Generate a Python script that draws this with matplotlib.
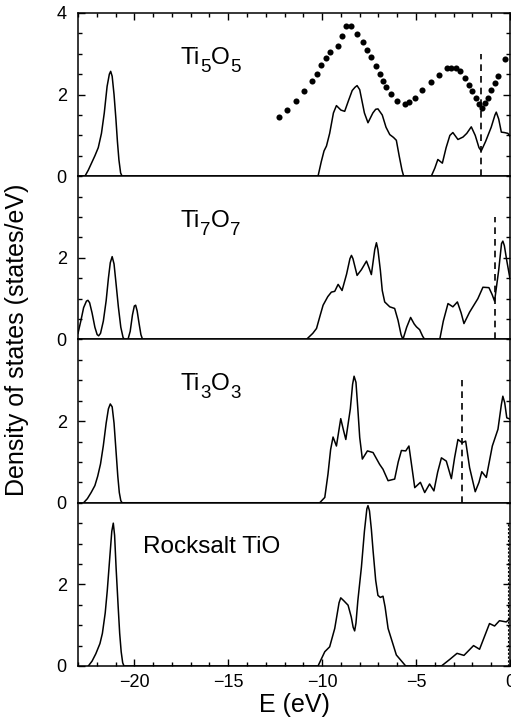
import matplotlib
matplotlib.use('Agg')

import matplotlib.pyplot as plt
from matplotlib.ticker import MultipleLocator

plt.rcParams['font.family'] = ['Liberation Sans', 'DejaVu Sans']

# panel names, top to bottom: (symbol, subscript) pieces
names = [[('Ti', '5'), ('O', '5')],
         [('Ti', '7'), ('O', '7')],
         [('Ti', '3'), ('O', '3')],
         [('Rocksalt TiO', '')]]

# Ti5O5 calculated DOS
ti5o5_e = [-23.0, -22.63, -22.45, -22.3, -22.1, -21.92, -21.75, -21.6, -21.45, -21.33, -21.26,
           -21.18, -21.08, -20.98, -20.9, -20.82, -20.73, -20.65,
           -10.22, -10.05, -9.9, -9.77, -9.6, -9.4, -9.24, -9.0, -8.8, -8.6, -8.4, -8.25, -8.14,
           -8.0, -7.75, -7.56, -7.3, -7.15, -7.03, -6.8, -6.6, -6.4, -6.2, -6.05, -5.9, -5.75,
           -5.66, -4.19, -4.0, -3.84, -3.6, -3.4, -3.2, -3.04, -2.77, -2.5, -2.3, -2.06, -1.85,
           -1.65, -1.53, -1.3, -1.0, -0.8, -0.73, -0.6, -0.46, -0.3, -0.11, 0.0]
ti5o5_dos = [0.0, 0.0, 0.15, 0.3, 0.5, 0.7, 1.05, 1.55, 2.2, 2.5, 2.57,
             2.45, 2.0, 1.4, 0.85, 0.4, 0.08, 0.0,
             0.0, 0.35, 0.62, 0.74, 1.05, 1.55, 1.73, 1.62, 1.59, 1.85, 2.1, 2.18, 2.22,
             2.12, 1.55, 1.31, 1.55, 1.64, 1.65, 1.5, 1.2, 1.02, 0.95, 0.88, 0.5, 0.15,
             0.0, 0.0, 0.2, 0.41, 0.32, 0.7, 1.0, 1.07, 0.9, 0.96, 1.05, 1.21, 1.0,
             0.7, 0.62, 0.85, 1.2, 1.5, 1.57, 1.4, 1.08, 1.07, 1.05, 0.98]

# Ti5O5 experimental spectrum (dots)
expt_e = [-12.29, -11.85, -11.40, -10.96, -10.52, -10.27, -10.04, -9.81, -9.60, -9.15,
          -8.92, -8.71, -8.44, -8.12, -7.82, -7.61, -7.41, -7.15, -6.94, -6.76,
          -6.58, -6.35, -6.00, -5.61, -5.38, -5.07, -4.67, -4.19, -3.78, -3.34,
          -3.12, -2.86, -2.68, -2.41, -2.20, -2.01, -1.79, -1.65, -1.47, -1.31,
          -1.17, -1.00, -0.82, -0.64, -0.29]
expt_dos = [1.46, 1.63, 1.85, 2.08, 2.33, 2.51, 2.72, 2.89, 3.04, 3.20,
            3.44, 3.68, 3.68, 3.49, 3.29, 3.10, 2.93, 2.69, 2.51, 2.34,
            2.19, 2.02, 1.85, 1.77, 1.81, 1.92, 2.12, 2.31, 2.49, 2.65,
            2.65, 2.65, 2.57, 2.41, 2.24, 2.08, 1.92, 1.78, 1.67, 1.80,
            1.92, 2.12, 2.29, 2.45, 2.87]

# Ti7O7
ti7o7_e = [-23.0, -22.85, -22.7, -22.55, -22.47, -22.38, -22.25, -22.1, -21.98, -21.9, -21.8,
           -21.65, -21.5, -21.38, -21.28, -21.18, -21.08, -20.98, -20.85, -20.72, -20.6,
           -20.52, -20.34, -20.22, -20.1, -20.0, -19.93, -19.85, -19.75, -19.65, -19.56,
           -10.84, -10.5, -10.3, -10.1, -9.95, -9.7, -9.51, -9.33, -9.15, -8.94, -8.7,
           -8.52, -8.44, -8.36, -8.14, -7.91, -7.64, -7.5, -7.38, -7.2, -7.11, -7.03, -6.9,
           -6.8, -6.67, -6.4, -6.14, -5.96, -5.8, -5.7, -5.5, -5.29, -5.1, -4.98, -4.81,
           -4.65, -4.54, -3.74, -3.55, -3.3, -3.04, -2.8, -2.6, -2.45, -2.15, -1.71, -1.44,
           -1.12, -0.95, -0.82, -0.6, -0.45, -0.38, -0.3, -0.17, 0.0]
ti7o7_dos = [0.15, 0.45, 0.78, 0.94, 0.96, 0.9, 0.65, 0.3, 0.12, 0.09, 0.15,
             0.45, 0.95, 1.5, 1.88, 2.03, 1.85, 1.4, 0.8, 0.3, 0.05,
             0.0, 0.0, 0.2, 0.6, 0.82, 0.84, 0.7, 0.4, 0.12, 0.0,
             0.0, 0.15, 0.27, 0.6, 0.84, 1.05, 1.16, 1.18, 1.35, 1.2, 1.6,
             1.98, 2.06, 1.98, 1.57, 1.71, 1.92, 1.75, 1.59, 2.2, 2.37, 2.2, 1.69,
             1.2, 0.92, 0.8, 0.76, 0.47, 0.12, 0.0, 0.3, 0.54, 0.38, 0.31, 0.24,
             0.08, 0.0, 0.0, 0.45, 0.88, 0.8, 0.92, 0.65, 0.39, 0.67, 1.0, 1.28,
             1.27, 1.1, 0.94, 1.7, 2.35, 2.41, 2.3, 1.93, 1.49]

# Ti3O3
ti3o3_e = [-22.7, -22.5, -22.3, -22.1, -21.95, -21.8, -21.65, -21.5, -21.38, -21.28, -21.18,
           -21.08, -20.98, -20.88, -20.8, -20.72, -20.65,
           -10.13, -9.86, -9.69, -9.55, -9.42, -9.24, -9.1, -9.01, -8.85, -8.74, -8.5,
           -8.38, -8.3, -8.2, -8.1, -8.0, -7.86, -7.59, -7.29, -6.94, -6.76, -6.49, -6.14,
           -5.95, -5.78, -5.55, -5.38, -5.2, -5.07, -4.77, -4.54, -4.28, -4.05, -3.85, -3.65,
           -3.39, -3.12, -2.95, -2.77, -2.55, -2.36, -2.15, -1.85, -1.65, -1.5, -1.26,
           -0.94, -0.64, -0.46, -0.38, -0.28, -0.17, 0.0]
ti3o3_dos = [0.0, 0.1, 0.25, 0.42, 0.65, 0.95, 1.4, 1.95, 2.3, 2.42, 2.35,
             1.95, 1.3, 0.65, 0.25, 0.05, 0.0,
             0.0, 0.13, 0.7, 1.3, 1.61, 1.39, 1.8, 2.06, 1.75, 1.55, 2.3,
             2.9, 3.1, 2.95, 2.3, 1.6, 1.07, 1.27, 1.23, 0.94, 0.82, 0.54, 0.58,
             1.0, 1.28, 1.27, 1.39, 0.8, 0.37, 0.5, 0.25, 0.46, 0.29, 0.75, 1.1,
             1.02, 0.59, 1.1, 1.55, 1.47, 1.51, 0.86, 0.27, 0.5, 0.76, 0.62,
             1.39, 1.8, 2.4, 2.61, 2.45, 2.08, 2.05]

# rocksalt TiO
rs_e = [-22.45, -22.25, -22.05, -21.83, -21.7, -21.55, -21.44, -21.3, -21.2, -21.12, -21.05,
        -20.97, -20.86, -20.78, -20.7, -20.62, -20.55,
        -10.22, -9.86, -9.6, -9.33, -9.1, -9.01, -8.85, -8.62, -8.45, -8.35, -8.27, -8.2,
        -8.1, -7.91, -7.75, -7.62, -7.56, -7.48, -7.38, -7.29, -7.15, -7.03, -6.9, -6.76,
        -6.65, -6.49, -6.05, -5.55, -3.65, -3.21, -2.82, -2.45, -1.94, -1.62, -1.09, -0.82,
        -0.56, -0.2, 0.0]
rs_dos = [0.0, 0.12, 0.3, 0.55, 0.8, 1.3, 1.85, 2.7, 3.3, 3.5, 3.2,
          2.4, 1.45, 0.8, 0.35, 0.08, 0.0,
          0.0, 0.35, 0.47, 0.92, 1.55, 1.67, 1.6, 1.49, 1.2, 0.95, 0.86, 1.05,
          1.6, 2.42, 3.3, 3.85, 3.93, 3.8, 3.35, 2.83, 2.1, 1.73, 1.68, 1.71,
          1.45, 0.92, 0.27, 0.0, 0.0, 0.16, 0.31, 0.26, 0.5, 0.41, 1.04, 0.98,
          1.11, 1.08, 1.16]

# Fermi level markers (dashed)
fermi_e = [-1.53, -0.82, -2.56, -0.08]
fermi_top = [3.0, 3.0, 3.0, 3.5]

FS = 17.5      # formula font size
FS_SUB = 13.5  # subscript font size
DROP = 5       # subscript drop, points


def draw_formula(ax, x, y, pieces):
    # chain text pieces so subscripts sit lower than the baseline
    prev = ax.text(x, y, pieces[0][0], fontsize=FS, ha='left', va='baseline')
    for k, (sym, sub) in enumerate(pieces):
        if k > 0:
            prev = ax.annotate(sym, xy=(1, 0), xycoords=prev, xytext=(0.3, DROP),
                               textcoords='offset points', fontsize=FS, va='bottom')
        if sub:
            prev = ax.annotate(sub, xy=(1, 0), xycoords=prev, xytext=(0.3, -DROP),
                               textcoords='offset points', fontsize=FS_SUB, va='bottom')


def style_axis(ax, i, n):
    ax.set_xlim(-23, 0)
    ax.set_ylim(0, 4)
    ax.xaxis.set_major_locator(MultipleLocator(5))
    ax.xaxis.set_minor_locator(MultipleLocator(1))
    ax.yaxis.set_minor_locator(MultipleLocator(0.5))
    if i == 0:
        ax.set_yticks([0, 2, 4])
    else:
        ax.set_yticks([0, 2])
    ax.tick_params(which='both', direction='in', left=True, right=True,
                   top=(i == 0), bottom=(i == n - 1), labelsize=13, width=1.0)
    ax.tick_params(which='major', length=5)
    ax.tick_params(which='minor', length=3)
    ax.tick_params(axis='y', pad=8)
    ax.tick_params(axis='x', pad=6)
    for s in ax.spines.values():
        s.set_linewidth(1.1)


def main():
    curves = [(ti5o5_e, ti5o5_dos), (ti7o7_e, ti7o7_dos), (ti3o3_e, ti3o3_dos), (rs_e, rs_dos)]
    fig, axes = plt.subplots(4, 1, sharex=True, figsize=(5.11, 7.2), dpi=100)
    fig.subplots_adjust(left=0.1526, right=0.998, top=0.982, bottom=0.075, hspace=0)

    for i, ax in enumerate(axes):
        e, dos = curves[i]
        ax.plot(e, dos, color='black', lw=1.1)
        if i == 3:
            ax.plot([fermi_e[i], fermi_e[i]], [0, fermi_top[i]], color='black',
                    lw=0.8, ls=(0, (2, 1.5)))
        else:
            ax.plot([fermi_e[i], fermi_e[i]], [0, fermi_top[i]], color='black',
                    lw=1.2, ls=(0, (4, 3)))
        x_lab = -19.54 if i == 3 else -17.55
        draw_formula(ax, x_lab, 2.76, names[i])
        style_axis(ax, i, len(axes))

    axes[0].plot(expt_e, expt_dos, 'o', ms=4.4, color='black', mec='none', clip_on=False)

    fig.text(0.034, 0.5285, 'Density of states (states/eV)', rotation=90,
             fontsize=18, ha='center', va='center')
    fig.text(294 / 511, 1 - 705 / 720, 'E (eV)', fontsize=18, ha='center', va='center')

    fig.savefig('out.png', dpi=100)


if __name__ == '__main__':
    main()
